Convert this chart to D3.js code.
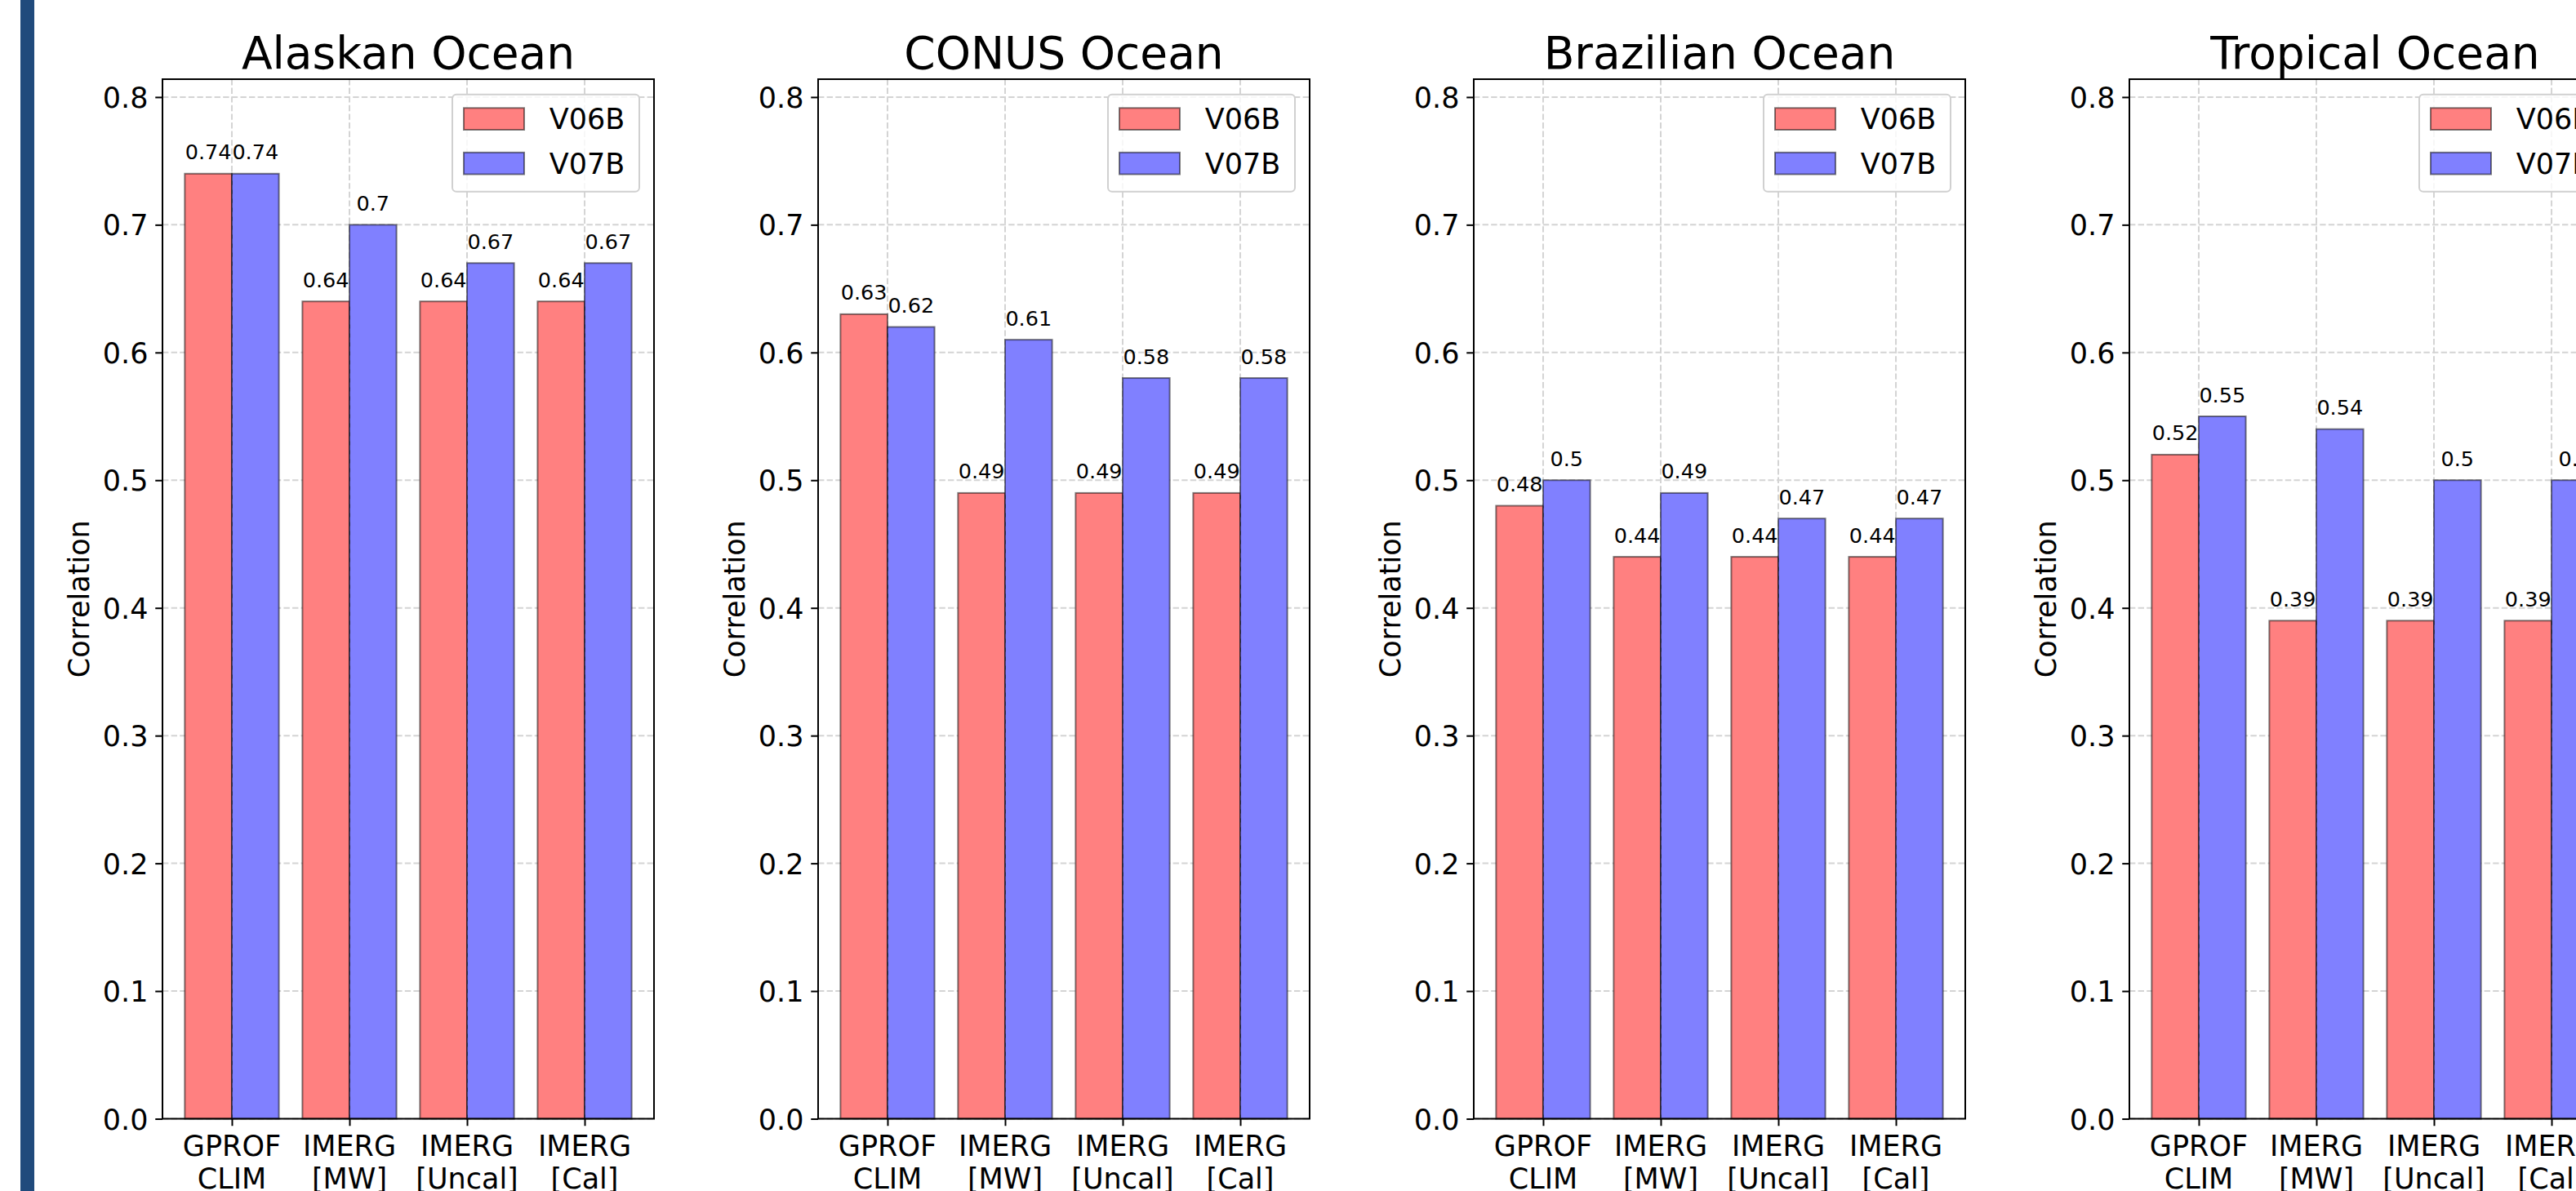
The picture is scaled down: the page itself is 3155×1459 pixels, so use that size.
<!DOCTYPE html>
<html>
<head>
<meta charset="utf-8">
<script src="https://cdn.jsdelivr.net/npm/d3@7"></script>
<style>
  html, body { margin: 0; padding: 0; background: #fff; overflow: hidden; }
  text { font-family: "DejaVu Sans", sans-serif; fill: #000; }
</style>
</head>
<body>
<script>
// chart data
const regions = ["Alaskan Ocean", "CONUS Ocean", "Brazilian Ocean", "Tropical Ocean"];
const catTop = ["GPROF", "IMERG", "IMERG", "IMERG"];
const catBottom = ["CLIM", "[MW]", "[Uncal]", "[Cal]"];
const seriesNames = ["V06B", "V07B"];
const v06b = [
    [0.74, 0.64, 0.64, 0.64],
    [0.63, 0.49, 0.49, 0.49],
    [0.48, 0.44, 0.44, 0.44],
    [0.52, 0.39, 0.39, 0.39]
];
const v07b = [
    [0.74, 0.70, 0.67, 0.67],
    [0.62, 0.61, 0.58, 0.58],
    [0.50, 0.49, 0.47, 0.47],
    [0.55, 0.54, 0.50, 0.50]
];
const yTicks = [0, 0.1, 0.2, 0.3, 0.4, 0.5, 0.6, 0.7, 0.8];

// layout
const W = 3155, H = 1459;
const panelLeft = 199, panelStep = 803, axW = 602;
const axTop = 97, axBottom = 1370.5;
const barW = 0.4;
const fills = ["#ff8080", "#8080ff"];
const fontTick = 35, fontTitle = 55, fontValue = 25.5;

const svg = d3.select("body").append("svg")
    .attr("width", W)
    .attr("height", H);

// dark stripe on the left edge
svg.append("rect")
    .attr("x", 25).attr("y", 0)
    .attr("width", 17).attr("height", H)
    .attr("fill", "#204a7c");

const y = d3.scaleLinear().domain([0, 0.814]).range([axBottom, axTop]);

regions.forEach(function(name, p) {
    const left = panelLeft + p * panelStep;
    const x = d3.scaleLinear().domain([-0.59, 3.59]).range([left, left + axW]);
    const g = svg.append("g").attr("id", "panel-" + p);
    const sets = [v06b[p], v07b[p]];

    // grid (below bars)
    const grid = g.append("g")
        .attr("stroke", "#d4d4d4")
        .attr("stroke-width", 2)
        .attr("stroke-dasharray", "7.4,3.2");
    grid.selectAll(".hgrid")
        .data(yTicks)
        .enter()
        .append("line")
        .attr("x1", left).attr("x2", left + axW)
        .attr("y1", d => y(d)).attr("y2", d => y(d));
    grid.selectAll(".vgrid")
        .data(catTop)
        .enter()
        .append("line")
        .attr("x1", (_, i) => x(i)).attr("x2", (_, i) => x(i))
        .attr("y1", axTop).attr("y2", axBottom);

    // bars
    sets.forEach(function(vals, s) {
        g.append("g").selectAll("rect")
            .data(vals)
            .enter()
            .append("rect")
            .attr("x", (_, i) => x(i - barW + s * barW))
            .attr("y", d => y(d))
            .attr("width", x(barW) - x(0))
            .attr("height", d => axBottom - y(d))
            .attr("fill", fills[s])
            .attr("stroke", "#000")
            .attr("stroke-opacity", 0.5)
            .attr("stroke-width", 2);
    });

    // darker dashed seam where the two bars meet
    g.append("g").selectAll("line")
        .data(catTop)
        .enter()
        .append("line")
        .attr("x1", (_, i) => x(i)).attr("x2", (_, i) => x(i))
        .attr("y1", axBottom)
        .attr("y2", (_, i) => y(Math.min(sets[0][i], sets[1][i])))
        .attr("stroke", "#2b2b3a")
        .attr("stroke-width", 1.6)
        .attr("stroke-dasharray", "5,6");

    // value labels
    sets.forEach(function(vals, s) {
        g.append("g").selectAll("text")
            .data(vals)
            .enter()
            .append("text")
            .attr("x", (_, i) => x(i - barW / 2 + s * barW))
            .attr("y", d => y(d) - 17.5)
            .attr("text-anchor", "middle")
            .attr("font-size", fontValue)
            .text(d => String(d));
    });

    // frame
    g.append("rect")
        .attr("x", left).attr("y", axTop)
        .attr("width", axW).attr("height", axBottom - axTop)
        .attr("fill", "none")
        .attr("stroke", "#000")
        .attr("stroke-width", 2);

    // y axis
    const yAxis = g.append("g")
        .attr("transform", `translate(${left},0)`)
        .call(d3.axisLeft(y).tickValues(yTicks).tickFormat(d3.format(".1f"))
            .tickSize(8.75).tickPadding(8.75));
    yAxis.select(".domain").remove();
    yAxis.selectAll(".tick line").attr("stroke", "#000").attr("stroke-width", 2);
    yAxis.selectAll(".tick text")
        .attr("font-family", "DejaVu Sans")
        .attr("font-size", fontTick)
        .attr("dy", "0.36em");

    // x axis
    const xAxis = g.append("g")
        .attr("transform", `translate(0,${axBottom})`)
        .call(d3.axisBottom(x).tickValues([0, 1, 2, 3]).tickFormat("").tickSize(8.75));
    xAxis.select(".domain").remove();
    xAxis.selectAll(".tick line").attr("stroke", "#000").attr("stroke-width", 2);
    const xl = g.append("g").selectAll("text")
        .data(catTop)
        .enter()
        .append("text")
        .attr("x", (_, i) => x(i))
        .attr("y", 1416)
        .attr("text-anchor", "middle")
        .attr("font-size", fontTick);
    xl.append("tspan").attr("x", (_, i) => x(i)).text(d => d);
    xl.append("tspan").attr("x", (_, i) => x(i)).attr("dy", 40)
        .text((_, i) => catBottom[i]);

    // y label
    g.append("text")
        .attr("transform", `translate(${left - 90},${(axTop + axBottom) / 2}) rotate(-90)`)
        .attr("text-anchor", "middle")
        .attr("font-size", fontTick)
        .text("Correlation");

    // title
    g.append("text")
        .attr("x", left + axW / 2)
        .attr("y", 84)
        .attr("text-anchor", "middle")
        .attr("font-size", fontTitle)
        .text(name);

    // legend
    const lgW = 229, lgH = 119;
    const lgX = left + axW - 18 - lgW, lgY = axTop + 18.7;
    const lg = g.append("g").attr("transform", `translate(${lgX},${lgY})`);
    lg.append("rect")
        .attr("width", lgW).attr("height", lgH)
        .attr("rx", 5)
        .attr("fill", "#fff").attr("fill-opacity", 0.8)
        .attr("stroke", "#d0d0d0").attr("stroke-width", 2);
    seriesNames.forEach(function(sn, s) {
        lg.append("rect")
            .attr("x", 14).attr("y", 16.6 + s * 54.5)
            .attr("width", 74).attr("height", 26.7)
            .attr("fill", fills[s])
            .attr("stroke", "#000").attr("stroke-opacity", 0.5).attr("stroke-width", 2);
        lg.append("text")
            .attr("x", 118.7).attr("y", 42.6 + s * 54.5)
            .attr("font-size", fontTick)
            .text(sn);
    });
});
</script>
</body>
</html>
